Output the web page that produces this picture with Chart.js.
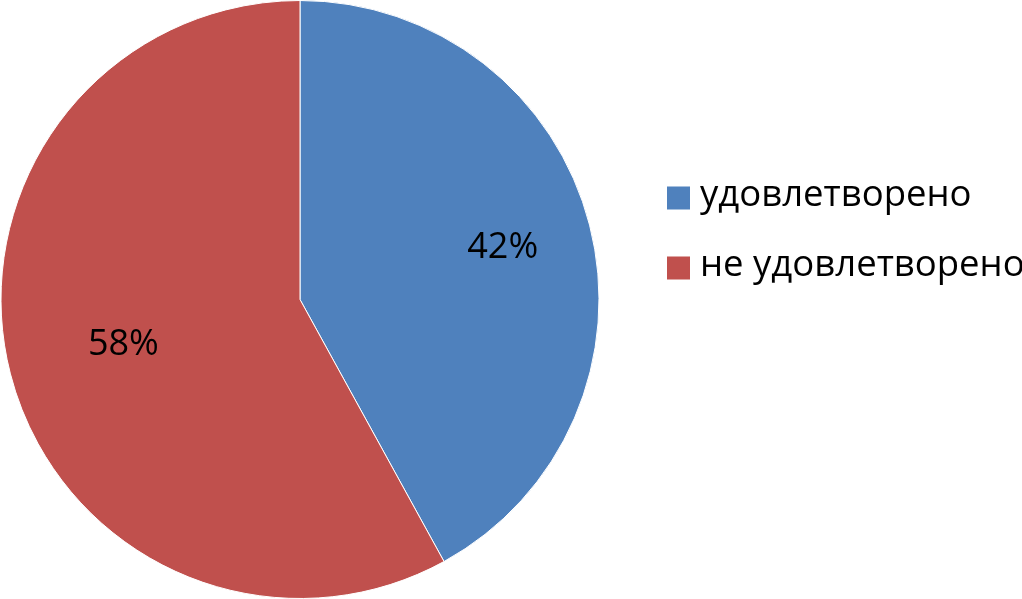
<!DOCTYPE html>
<html>
<head>
<meta charset="utf-8">
<script src="https://cdn.jsdelivr.net/npm/chart.js@4/dist/chart.umd.min.js"></script>
<style>
  html, body { margin: 0; padding: 0; background: #fff; }
  #wrap { width: 1022px; height: 599px; }
</style>
</head>
<body>
<div id="wrap"><canvas id="myChart" width="1022" height="599"></canvas></div>
<script>
const categories = ["удовлетворено", "не удовлетворено"];
const percentValues = [42, 58];
const sliceColors = ["#4F81BD", "#C0504D"];
const labelRadius = [0.70, 0.61];

const fontFamily = "'Open Sans', 'DejaVu Sans', sans-serif";

// percent labels inside slices
const sliceLabels = {
  id: "sliceLabels",
  afterDatasetsDraw(chart) {
    const ctx = chart.ctx;
    const meta = chart.getDatasetMeta(0);
    ctx.save();
    ctx.font = "36px " + fontFamily;
    ctx.fillStyle = "#000";
    ctx.textAlign = "center";
    ctx.textBaseline = "middle";
    meta.data.forEach((arc, i) => {
      const mid = (arc.startAngle + arc.endAngle) / 2;
      const r = arc.outerRadius * labelRadius[i];
      ctx.fillText(percentValues[i] + "%", arc.x + Math.cos(mid) * r, arc.y + Math.sin(mid) * r);
    });
    ctx.restore();
  }
};

// legend on the right, drawn by hand so it sits where the original has it
const sideLegend = {
  id: "sideLegend",
  afterDraw(chart) {
    const ctx = chart.ctx;
    const x0 = chart.chartArea.right + 67;
    const rowGap = 70;
    const yTop = chart.height / 2 - 102;
    ctx.save();
    ctx.font = "36.5px " + fontFamily;
    ctx.textBaseline = "middle";
    categories.forEach((name, i) => {
      const y = yTop + i * rowGap;
      ctx.fillStyle = sliceColors[i];
      ctx.fillRect(x0, y - 11, 23, 23);
      ctx.fillStyle = "#000";
      ctx.fillText(name, x0 + 33, y - 2);
    });
    ctx.restore();
  }
};

const chartContainer = document.getElementById("myChart").getContext("2d");

const myChart = new Chart(chartContainer, {
  type: "pie",
  data: {
    labels: categories,
    datasets: [
      {
        data: percentValues,
        backgroundColor: sliceColors,
        borderColor: "#ffffff",
        borderWidth: 1,
      },
    ],
  },
  options: {
    responsive: false,
    animation: false,
    layout: { padding: { left: 0, right: 422, top: 0, bottom: 0 } },
    plugins: {
      legend: { display: false },
      tooltip: { enabled: false },
    },
  },
  plugins: [sliceLabels, sideLegend],
});
</script>
</body>
</html>
